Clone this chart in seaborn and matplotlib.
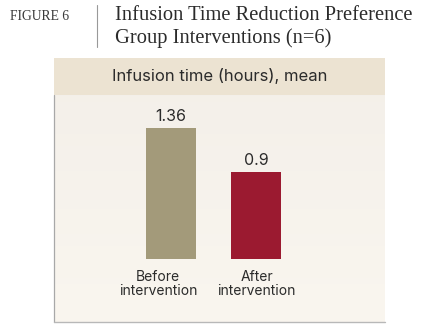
import numpy as np
import pandas as pd
import matplotlib
matplotlib.use('Agg')
import matplotlib.pyplot as plt
import matplotlib.transforms as mtransforms
import seaborn as sns
from matplotlib.patches import Rectangle

# data
categories = ['Before\nintervention', 'After\nintervention']
hours = [1.36, 0.9]
bar_colors = ['#a39a7a', '#9b1a30']

sns.set_style('white')
plt.rcParams['font.family'] = ['Inter', 'DejaVu Sans']

W, H = 427, 332
fig = plt.figure(figsize=(W / 100, H / 100), dpi=100)
fig.patch.set_facecolor('white')

def box(x0, y0, x1, y1):
    # pixel box (top-left origin) -> figure fraction rect
    return [x0 / W, 1 - y1 / H, (x1 - x0) / W, (y1 - y0) / H]

# panel background with soft vertical gradient
bg = fig.add_axes(box(54, 58, 385, 322))
grad = np.linspace(0, 1, 256).reshape(-1, 1)
top_c = np.array([0xf3, 0xef, 0xe9]) / 255
bot_c = np.array([0xfa, 0xf6, 0xef]) / 255
img = top_c + (bot_c - top_c) * grad[..., None]
bg.imshow(img, aspect='auto', extent=[0, 1, 0, 1], origin='upper')
bg.set_xlim(0, 1)
bg.set_ylim(0, 1)
bg.axis('off')

# header band
hdr_h = (95 - 58) / (322 - 58)
bg.add_patch(Rectangle((0, 1 - hdr_h), 1, hdr_h, color='#ece3d2', lw=0))
bg.text(0.5, 1 - hdr_h / 2, 'Infusion time (hours), mean', ha='center', va='center',
        fontsize=12, color='#2b2b2b')
# left and bottom rules
bg.plot([0, 0], [0, 1 - hdr_h], color='#a8a8a8', lw=0.9, clip_on=False)
bg.plot([0, 1], [0, 0], color='#b8b8b8', lw=1.0, clip_on=False)

# bars
ax = fig.add_axes(box(54, 95, 385, 259))
ax.patch.set_alpha(0)
df = pd.DataFrame({'cat': categories, 'val': hours})
sns.barplot(data=df, x='cat', y='val', hue='cat', palette=bar_colors, legend=False,
            width=0.585, ax=ax, saturation=1, linewidth=0)
ax.set_xlim(-1.368, 2.503)
ax.set_ylim(0, 1.70)
for i, v in enumerate(hours):
    ax.text(i, v + 0.04, f'{v:g}', ha='center', va='bottom', fontsize=11.5, color='#2b2b2b')
ax.set_xlabel('')
ax.set_ylabel('')
ax.set_yticks([])
ax.tick_params(axis='x', length=0, pad=8, labelsize=10, labelcolor='#2b2b2b')
for lab in ax.get_xticklabels():
    lab.set_linespacing(1.0)
# first label sits a little left of its bar in the original
first = ax.get_xticklabels()[0]
first.set_transform(first.get_transform() +
                    mtransforms.ScaledTranslation(-13 / 100, 0, fig.dpi_scale_trans))
for s in ax.spines.values():
    s.set_visible(False)

# title block
fig.text(10 / W, 1 - 17 / H, 'FIGURE 6', family='Liberation Serif', fontsize=9.8,
         color='#3a3a3a', va='center', ha='left')
fig.add_artist(plt.Line2D([97 / W, 97 / W], [1 - 5 / H, 1 - 47 / H], color='#999999', lw=0.8))
fig.text(115 / W, 1 - 16 / H, 'Infusion Time Reduction Preference', family='Liberation Serif',
         fontsize=14.8, color='#2b2b2b', va='center', ha='left')
fig.text(115 / W, 1 - 38 / H, 'Group Interventions (n=6)', family='Liberation Serif',
         fontsize=14.8, color='#2b2b2b', va='center', ha='left')

fig.savefig('out.png', dpi=100)
